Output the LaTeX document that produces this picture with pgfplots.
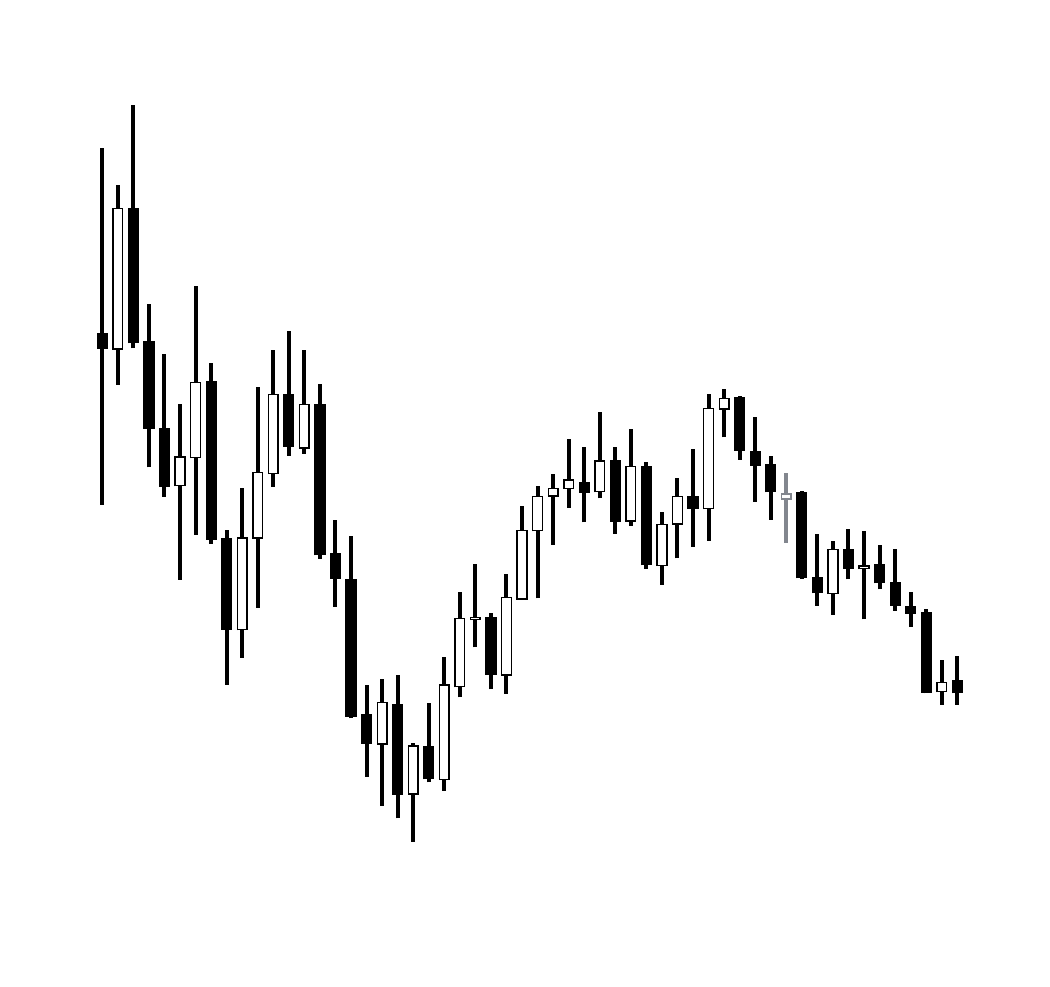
\documentclass[border=0pt]{standalone}
\usepackage{pgfplots}
\usepackage{pgfplotstable}
\pgfplotsset{compat=1.18}
\definecolor{wickgray}{RGB}{130,134,142}

% x open high low close
\pgfplotstableread{
x open high low close
0 653 837.6 481 637
2 778.4 881 637.6 642.7
3 645 682 518.5 557
4 558 632 489 499
7 605 623 442.3 446.3
8 447.5 456 301 356.3
12 591.5 655.4 530 539
14 581.6 602 427.3 430.5
15 432.5 466 379 407
16 406.7 450 267.7 269.3
17 271.7 301 209.3 242
19 282 311 167.7 191
21 240 282.7 203.7 206.7
25 369.3 372.7 296.7 311
31 504.3 538.7 463.7 493.3
33 526 538.7 452 464.3
35 520 524.3 417.3 420.7
38 490 537 439.3 477.3
41 589.3 590.3 526 535
42 535.3 568.7 484 520
43 521.7 530 466 493.7
45 494.3 495 407 407.7
46 409.3 451.7 380 392.7
48 437 456.7 406.7 417
50 422 441 396.7 402.7
51 403.7 436.7 375 380
52 380.3 393.7 359.3 372
53 374.3 376.7 292.7 293.3
55 306 330.3 281 292.7
}\bear

\pgfplotstableread{
x open high low close
1 636.8 801.3 601 777.6
5 500.3 582.4 406 529
6 528.3 699.5 451.4 603.3
9 356.3 497.6 328 448.2
10 448.2 599.3 378 513.3
11 512.5 636.4 499 591.5
13 538.2 636.4 532.3 581.6
18 242 306.7 180 283.3
20 192 242.7 144.3 240
22 206.7 328.7 195.3 301
23 299.3 394.3 288.7 367.7
24 366.7 422 338.7 368.7
26 311 412 292 388.3
27 387 480.3 387 455.3
28 455.3 500 387.7 489.3
29 490 511.7 441 497.7
30 497.7 546.7 478.3 506
32 494.3 573.7 487.7 525
34 465 557.3 460.3 519.7
36 420.7 474.3 401 461.7
37 462 507.7 427.7 489.7
39 477.3 591.7 445.3 577.7
40 577 596.7 548.7 587.7
47 392.7 445.3 371 436.7
49 417.3 455 366.7 420
54 294.3 326 281 303.7
}\bull

\pgfplotstableread{
x open high low close
44 487 513.3 443.3 492
}\grey

\begin{document}
\begin{tikzpicture}
\path (0,0) rectangle (525pt,493pt);
\begin{axis}[
  at={(0,0)}, anchor=south west,
  scale only axis, width=525pt, height=493pt,
  hide axis, clip=false,
  xmin=-6.581, xmax=60.965,
  ymin=0, ymax=986,
  every axis plot/.append style={draw=none, forget plot},
]
% wicks
\addplot[error bars/.cd, y dir=plus, y explicit, error mark=none,
  error bar style={draw=black, line width=2pt}]
  table[x=x, y=low, y error plus expr=\thisrow{high}-\thisrow{low}] {\bear};
\addplot[error bars/.cd, y dir=plus, y explicit, error mark=none,
  error bar style={draw=black, line width=2pt}]
  table[x=x, y=low, y error plus expr=\thisrow{high}-\thisrow{low}] {\bull};
\addplot[error bars/.cd, y dir=plus, y explicit, error mark=none,
  error bar style={draw=wickgray, line width=2pt}]
  table[x=x, y=low, y error plus expr=\thisrow{high}-\thisrow{low}] {\grey};
% falling bodies
\addplot[error bars/.cd, y dir=plus, y explicit, error mark=none,
  error bar style={draw=black, line width=5.6pt}]
  table[x=x, y=close, y error plus expr=\thisrow{open}-\thisrow{close}] {\bear};
% rising bodies: outline, then white inside
\addplot[error bars/.cd, y dir=plus, y explicit, error mark=none,
  error bar style={draw=black, line width=5.6pt}]
  table[x=x, y expr=\thisrow{open}-0.75, y error plus expr=\thisrow{close}-\thisrow{open}+1.5] {\bull};
\addplot[error bars/.cd, y dir=plus, y explicit, error mark=none,
  error bar style={draw=white, line width=4.1pt}]
  table[x=x, y expr=\thisrow{open}+0.75, y error plus expr=\thisrow{close}-\thisrow{open}-1.5] {\bull};
% grey candle
\addplot[error bars/.cd, y dir=plus, y explicit, error mark=none,
  error bar style={draw=wickgray, line width=5.6pt}]
  table[x=x, y expr=\thisrow{open}-0.75, y error plus expr=\thisrow{close}-\thisrow{open}+1.5] {\grey};
\addplot[error bars/.cd, y dir=plus, y explicit, error mark=none,
  error bar style={draw=white, line width=4.1pt}]
  table[x=x, y expr=\thisrow{open}+0.75, y error plus expr=\thisrow{close}-\thisrow{open}-1.5] {\grey};
\end{axis}
\end{tikzpicture}
\end{document}
